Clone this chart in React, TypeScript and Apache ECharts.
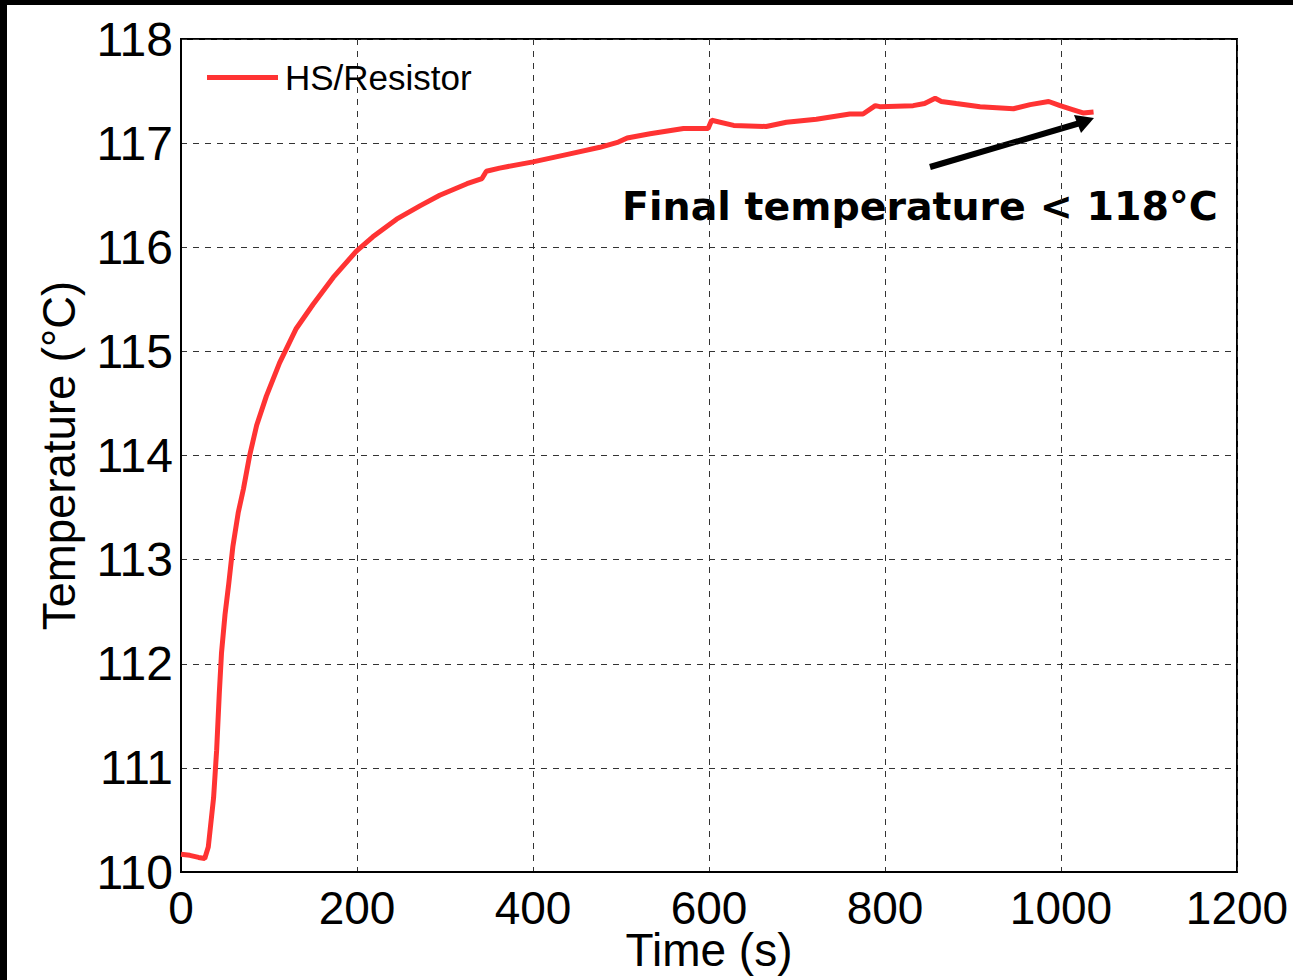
import React, { useEffect, useRef } from "react";
import * as echarts from "echarts";

const timeS = [0, 10, 20, 27, 31, 37, 40.5, 43.6, 46, 50, 54, 59, 65, 71, 78, 86, 97, 112, 131, 150, 173, 199, 218, 245, 272, 294, 325, 342, 347, 362, 400, 438, 476, 497, 507, 533, 571, 599, 603, 628, 665, 688, 722, 760, 775, 789, 794, 832, 845, 857, 864, 881, 908, 946, 965, 986, 999, 1014, 1025, 1037];
const tempC = [110.17, 110.16, 110.14, 110.13, 110.24, 110.71, 111.17, 111.73, 112.1, 112.47, 112.75, 113.13, 113.45, 113.68, 114.0, 114.29, 114.57, 114.89, 115.22, 115.45, 115.71, 115.96, 116.1, 116.27, 116.4, 116.5, 116.61, 116.66, 116.73, 116.76, 116.82, 116.89, 116.96, 117.01, 117.05, 117.09, 117.14, 117.14, 117.22, 117.17, 117.16, 117.2, 117.23, 117.28, 117.28, 117.36, 117.35, 117.36, 117.38, 117.43, 117.4, 117.38, 117.35, 117.33, 117.37, 117.4, 117.36, 117.32, 117.29, 117.3];
const seriesName = "HS/Resistor";
const annotation = "Final temperature < 118°C";

export default function App() {
  const ref = useRef<HTMLDivElement>(null);
  useEffect(() => {
    document.body.style.margin = "0";
    const chart = echarts.init(ref.current!, null, { renderer: "svg" });
    const font = "'Liberation Sans', Arial, sans-serif";
    chart.setOption({
      animation: false,
      backgroundColor: "#fff",
      grid: {
        left: 181, top: 39, right: 56, bottom: 108, outerBoundsMode: "none", containLabel: false,
        show: true, borderColor: "#000", borderWidth: 2, backgroundColor: "#fff",
      },
      legend: {
        left: 207, top: 60, padding: 0, icon: "rect", itemWidth: 71, itemHeight: 5,
        data: [seriesName],
        textStyle: { fontFamily: font, fontSize: 35, color: "#000", padding: [0, 0, 0, 2] },
      },
      xAxis: {
        type: "value", min: 0, max: 1200, interval: 200,
        name: "Time (s)", nameLocation: "middle", nameGap: 59, nameMoveOverlap: false,
        nameTextStyle: { fontFamily: font, fontSize: 46, lineHeight: 38, color: "#000" },
        axisLine: { show: true, onZero: false, lineStyle: { color: "#000", width: 2 } },
        axisTick: { show: false },
        axisLabel: { fontFamily: font, fontSize: 46, lineHeight: 34, color: "#000", margin: 19, formatter: (v: number) => String(v) },
        splitLine: { show: true, lineStyle: { type: [6, 6], color: "#333", width: 1 } },
      },
      yAxis: {
        type: "value", min: 110, max: 118, interval: 1,
        name: "Temperature (°C)", nameLocation: "middle", nameGap: 99, nameMoveOverlap: false,
        nameTextStyle: { fontFamily: font, fontSize: 45.5, color: "#000" },
        axisLine: { show: true, lineStyle: { color: "#000", width: 2 } },
        axisTick: { show: false },
        axisLabel: { fontFamily: font, fontSize: 48, color: "#000", margin: 8, formatter: (v: number) => String(v) },
        splitLine: { show: true, lineStyle: { type: [6, 6], color: "#333", width: 1 } },
      },
      series: [{
        name: seriesName, type: "line", showSymbol: false, symbol: "none",
        data: timeS.map((t, i) => [t, tempC[i]]),
        lineStyle: { color: "#ff3333", width: 5 }, itemStyle: { color: "#ff3333" },
      }],
      graphic: [
        { type: "rect", shape: { x: 0, y: 0, width: 1293, height: 5 }, style: { fill: "#000" } },
        { type: "rect", shape: { x: 0, y: 0, width: 7, height: 980 }, style: { fill: "#000" } },
        { type: "line", shape: { x1: 930, y1: 167, x2: 1080, y2: 123 }, style: { stroke: "#000", lineWidth: 6 } },
        { type: "polygon", shape: { points: [[1094, 118], [1074, 115], [1081, 133]] }, style: { fill: "#000" } },
        {
          type: "text", x: 622, y: 206,
          style: { text: annotation, fontFamily: "'DejaVu Sans', sans-serif", fontWeight: "bold", fontSize: 39.5, fill: "#000", textVerticalAlign: "middle", textAlign: "left" },
        },
      ],
    });
    return () => chart.dispose();
  }, []);
  return <div ref={ref} style={{ position: "fixed", left: 0, top: 0, width: 1293, height: 980 }} />;
}
